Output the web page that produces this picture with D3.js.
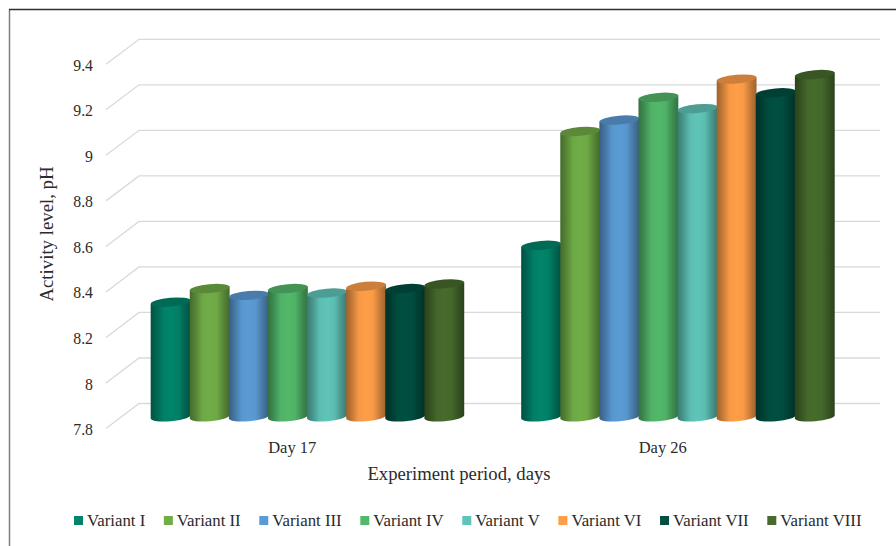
<!DOCTYPE html>
<html><head><meta charset="utf-8">
<script src="https://cdn.jsdelivr.net/npm/d3@7"></script>
<style>html,body{margin:0;padding:0;background:#fff}svg{display:block}text{font-family:"Liberation Serif","Times New Roman",serif;fill:#2b2b2b}</style>
</head><body><svg id="c" width="896" height="546"></svg>
<script>
const categories=["Day 17","Day 26"];
const variants=["Variant I","Variant II","Variant III","Variant IV","Variant V","Variant VI","Variant VII","Variant VIII"];
const colors=["#00846a","#70ad47","#5b9bd5","#52b86a","#5fc4b8","#ff9e48","#004f40","#466b2c"];
const day17=[8.30,8.36,8.33,8.36,8.34,8.37,8.36,8.38];
const day26=[8.55,9.05,9.10,9.20,9.15,9.28,9.22,9.30];
const yTicks=[7.8,8,8.2,8.4,8.6,8.8,9,9.2,9.4];
const yTitle="Activity level, pH", xTitle="Experiment period, days";
const series=[day17,day26];

const svg=d3.select("#c");
const depthX=33,depthY=25;
const y=d3.scaleLinear().domain([7.8,9.4]).range([428.5,64.3]);
const x0=d3.scaleBand().domain(categories).range([106,847]);
const barBand=39.1;
const x1=d3.scaleBand().domain(variants).range([0,barBand*variants.length]);

// frame
svg.append("path").attr("d","M9.5,9.5V546").attr("fill","none").attr("stroke","#7f7f7f").attr("stroke-width",1.5);
svg.append("path").attr("d","M896,9.5H9").attr("fill","none").attr("stroke","#2e2e2e").attr("stroke-width",1.3);

// grid
const grid=svg.append("g").attr("fill","none").attr("stroke","#d9d9d9").attr("stroke-width",1.3);
yTicks.forEach(t=>{
  grid.append("path").attr("d",`M${x0.range()[0]},${y(t)}L${x0.range()[0]+depthX},${y(t)-depthY}H${x0.range()[1]+depthX}`);
});
// tick labels
svg.append("g").selectAll("text").data(yTicks).join("text")
  .attr("x",93).attr("y",d=>y(d)+1).attr("dy","0.35em").attr("text-anchor","end").attr("font-size",15.8).text(d=>d);

// gradients
const defs=svg.append("defs");
colors.forEach((c,i)=>{
  const g=defs.append("linearGradient").attr("id","g"+i);
  [[0,.62],[.14,.76],[.32,.97],[.5,1],[.68,.97],[.86,.76],[1,.62]].forEach(([o,k])=>{
    const r=d3.rgb(c);
    g.append("stop").attr("offset",o).attr("stop-color",d3.rgb(r.r*k,r.g*k,r.b*k).formatHex());
  });
});

// cylinders
const rx=20,ry=4.4,rot=5,rad=rot*Math.PI/180;
const dx=rx*Math.cos(rad),dy=rx*Math.sin(rad);
const bars=svg.append("g");
categories.forEach((cat,ci)=>{
  const groupW=x1.range()[1];
  const left=x0(cat)+x0.bandwidth()/2-groupW/2+depthX/2-0.3;
  variants.forEach((v,i)=>{
    const cx=left+x1(v)+x1.bandwidth()/2;
    const top=y(series[ci][i])-depthY/2;
    const bot=y(7.8)-depthY/2+0.8;
    const g=bars.append("g");
    g.append("path").attr("fill",`url(#g${i})`)
      .attr("d",`M${cx-dx},${top+dy}L${cx-dx},${bot+dy}A${rx},${ry} ${-rot} 0 0 ${cx+dx},${bot-dy}L${cx+dx},${top-dy}Z`);
    const c=d3.rgb(colors[i]);
    g.append("ellipse").attr("cx",cx).attr("cy",top).attr("rx",rx).attr("ry",ry)
      .attr("transform",`rotate(${-rot} ${cx} ${top})`)
      .attr("fill",d3.rgb(c.r*.8,c.g*.8,c.b*.8).formatHex());
  });
});

// category labels
svg.append("g").selectAll("text").data(categories).join("text")
  .attr("x",d=>x0(d)+x0.bandwidth()/2+1).attr("y",447).attr("dy","0.35em").attr("text-anchor","middle").attr("font-size",16.5).text(d=>d);

// titles
svg.append("text").attr("transform","translate(46,234) rotate(-90)").attr("dy","0.35em").attr("text-anchor","middle").attr("font-size",18.8).text(yTitle);
svg.append("text").attr("x",459).attr("y",473).attr("dy","0.35em").attr("text-anchor","middle").attr("font-size",18.7).text(xTitle);

// legend (flowed from measured text widths)
const lg=svg.append("g");
let lx=74;
variants.forEach((v,i)=>{
  lg.append("rect").attr("x",lx).attr("y",516).attr("width",9).attr("height",9).attr("fill",colors[i]);
  const t=lg.append("text").attr("x",lx+13).attr("y",520.5).attr("dy","0.35em").attr("font-size",16.8).text(v);
  lx+=13+t.node().getComputedTextLength()+18.6;
});
</script></body></html>
